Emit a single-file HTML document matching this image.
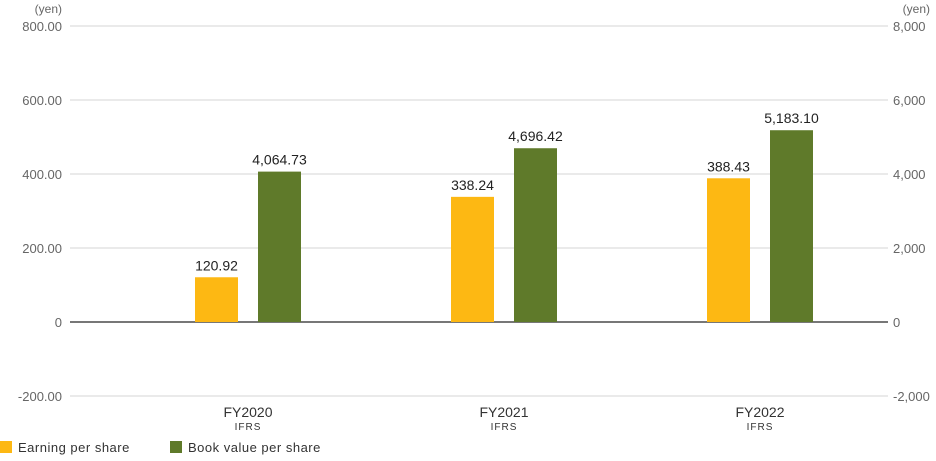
<!DOCTYPE html>
<html><head><meta charset="utf-8"><style>
body{margin:0;background:#fff;font-family:"Liberation Sans",sans-serif;}
svg text{font-family:"Liberation Sans",sans-serif;}
</style></head><body>
<svg id="c" width="936" height="456"></svg>
<script>
const categories=["FY2020","FY2021","FY2022"];
const subLabels=["IFRS","IFRS","IFRS"];
const epsValues=[120.92,338.24,388.43];
const bvpsValues=[4064.73,4696.42,5183.10];
const epsLabels=["120.92","338.24","388.43"];
const bvpsLabels=["4,064.73","4,696.42","5,183.10"];
const leftTicks=[800,600,400,200,0,-200];
const leftTickLabels=["800.00","600.00","400.00","200.00","0","-200.00"];
const rightTicks=[8000,6000,4000,2000,0,-2000];
const rightTickLabels=["8,000","6,000","4,000","2,000","0","-2,000"];

const svg=document.getElementById('c');
const NS='http://www.w3.org/2000/svg';
const y0=322, ppu=74/200;
const yL=v=>y0-v*ppu;
const yR=v=>y0-v*ppu/10;
const bandX0=120,bandW=256;
const xC=i=>bandX0+bandW*(i+0.5);
function mk(t,a,txt){const e=document.createElementNS(NS,t);for(const k in a)e.setAttribute(k,a[k]);if(txt!=null)e.textContent=txt;svg.appendChild(e);return e;}

leftTicks.forEach((v,i)=>{
  const g=mk('line',{x1:70,x2:888,y1:yL(v),y2:yL(v),stroke:v===0?'#777':'#d4d4d4','stroke-width':v===0?2:1});
  
  
  const t=mk('text',{x:62,y:yL(v)+5,'text-anchor':'end','font-size':13,fill:'#666'},leftTickLabels[i]);
  
  
});
rightTicks.forEach((v,i)=>{
  const t=mk('text',{x:893,y:yR(v)+5,'text-anchor':'start','font-size':13,fill:'#666'},rightTickLabels[i]);
  
  
});
let u=mk('text',{x:62,y:13,'text-anchor':'end','font-size':12,fill:'#666'},'(yen)');


u=mk('text',{x:930,y:13,'text-anchor':'end','font-size':12,fill:'#666'},'(yen)');



const bw=43;
categories.forEach((c,i)=>{
  const cx=xC(i);
  const ex=cx-31.5-bw/2, by=yL(epsValues[i]);
  const b1=mk('rect',{x:ex,y:by,width:bw,height:y0-by,fill:'#fdb813'});
  
  
  const l1=mk('text',{x:ex+bw/2,y:by-7,'text-anchor':'middle','font-size':14,fill:'#222'},epsLabels[i]);
  
  
  const bx=cx+31.5-bw/2, bY=yR(bvpsValues[i]);
  const b2=mk('rect',{x:bx,y:bY,width:bw,height:y0-bY,fill:'#5f7a2a'});
  
  
  const l2=mk('text',{x:bx+bw/2,y:bY-7,'text-anchor':'middle','font-size':14,fill:'#222'},bvpsLabels[i]);
  
  
  const cl=mk('text',{x:cx,y:417,'text-anchor':'middle','font-size':14,fill:'#333'},c);
  
  
  const sl=mk('text',{x:cx,y:430,'text-anchor':'middle','font-size':10,fill:'#333','letter-spacing':'1'},subLabels[i]);
  
  
});

let s=mk('rect',{x:0,y:441,width:12,height:12,fill:'#fdb813'});


s=mk('text',{x:18,y:452,'font-size':13,fill:'#333','letter-spacing':'0.5'},'Earning per share');


s=mk('rect',{x:170,y:441,width:12,height:12,fill:'#5f7a2a'});


s=mk('text',{x:188,y:452,'font-size':13,fill:'#333','letter-spacing':'0.5'},'Book value per share');


</script>
</body></html>
